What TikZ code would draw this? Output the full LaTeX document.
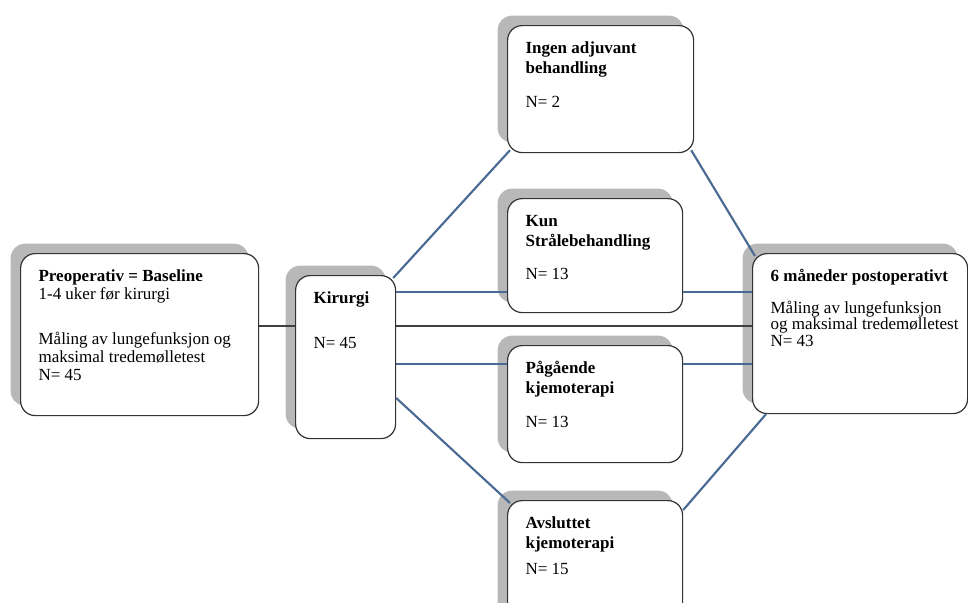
\documentclass[tikz,border=0pt]{standalone}
\usepackage{fontspec}
\setmainfont{Liberation Serif}
\usetikzlibrary{shadows,calc}
\definecolor{linjeblaa}{RGB}{74,106,148}
\definecolor{skygge}{RGB}{184,184,184}
\newcommand{\innhold}[3]{\parbox[t][\dimexpr#2pt*3/4-23pt\relax][t]{\dimexpr#1pt*3/4\relax}{\raggedright\leftskip=13.5pt\fontsize{12.75}{13.5}\selectfont\strut#3}}
\begin{document}
\begin{tikzpicture}[x=0.75pt,y=-0.75pt,
  boks/.style={draw=black!80,line width=0.9pt,rounded corners=11pt,fill=white,anchor=north west,
    inner xsep=0pt,inner ysep=11.5pt,
    drop shadow={shadow xshift=-7.5pt,shadow yshift=7.5pt,fill=skygge,opacity=1}},
  blaa/.style={draw=linjeblaa,line width=1.6pt},
  svart/.style={draw=black!75,line width=0.9pt}]
\useasboundingbox (0,0) rectangle (968,603);
\foreach \navn/\x/\y/\b/\h/\tekst in {
  pre/20/253/238/162/{\textbf{Preoperativ = Baseline}\\1-4 uker før kirurgi\\[20pt]Måling av lungefunksjon og\\maksimal tredemølletest\\N= 45},
  kir/295/275/100/163/{\textbf{Kirurgi}\\[20pt]N= 45},
  ingen/507/25/186/127/{\textbf{Ingen adjuvant}\\[1.5pt]\textbf{behandling}\\[12pt]N= 2},
  kun/507/198/175/114/{\textbf{Kun}\\[1.5pt]\textbf{Strålebehandling}\\[11pt]N= 13},
  paa/507/345/175/117/{\textbf{Pågående}\\[1.5pt]\textbf{kjemoterapi}\\[12pt]N= 13},
  avs/507/500/175/130/{\textbf{Avsluttet}\\[1.5pt]\textbf{kjemoterapi}\\[6pt]N= 15},
  seks/752/253/215/160/{\textbf{6 måneder postoperativt}\\[10.5pt]Måling av lungefunksjon\\[-1.5pt]og maksimal tredemølletest\\[-1pt]N= 43}} {
  \node[boks] (\navn) at (\x,\y) {\innhold{\b}{\h}{\tekst}};
}
% hoyder for de vannrette linjene
\coordinate (hkun) at (0,292);
\coordinate (hmid) at (0,326);
\coordinate (hpaa) at (0,364);
\coordinate (hned) at (0,398);
\draw[svart] (pre.east |- hmid) -- (kir.west |- hmid);
\draw[svart] (kir.east |- hmid) -- (seks.west |- hmid);
\draw[blaa] (kir.east |- hkun) -- (kun.west |- hkun);
\draw[blaa] (kun.east |- hkun) -- (seks.west |- hkun);
\draw[blaa] (kir.east |- hpaa) -- (paa.west |- hpaa);
\draw[blaa] (paa.east |- hpaa) -- (seks.west |- hpaa);
\draw[blaa] ($(kir.north east)+(-3,3)$) -- ($(ingen.south west)+(3,-3)$);
\draw[blaa] ($(ingen.south east)+(-3,-3)$) -- ($(seks.north west)+(3,3)$);
\draw[blaa] (kir.east |- hned) -- ($(avs.north west)+(3,3)$);
\draw[blaa] ($(avs.north east)+(0,10)$) -- ($(seks.south west)+(14,0)$);
\end{tikzpicture}
\end{document}
